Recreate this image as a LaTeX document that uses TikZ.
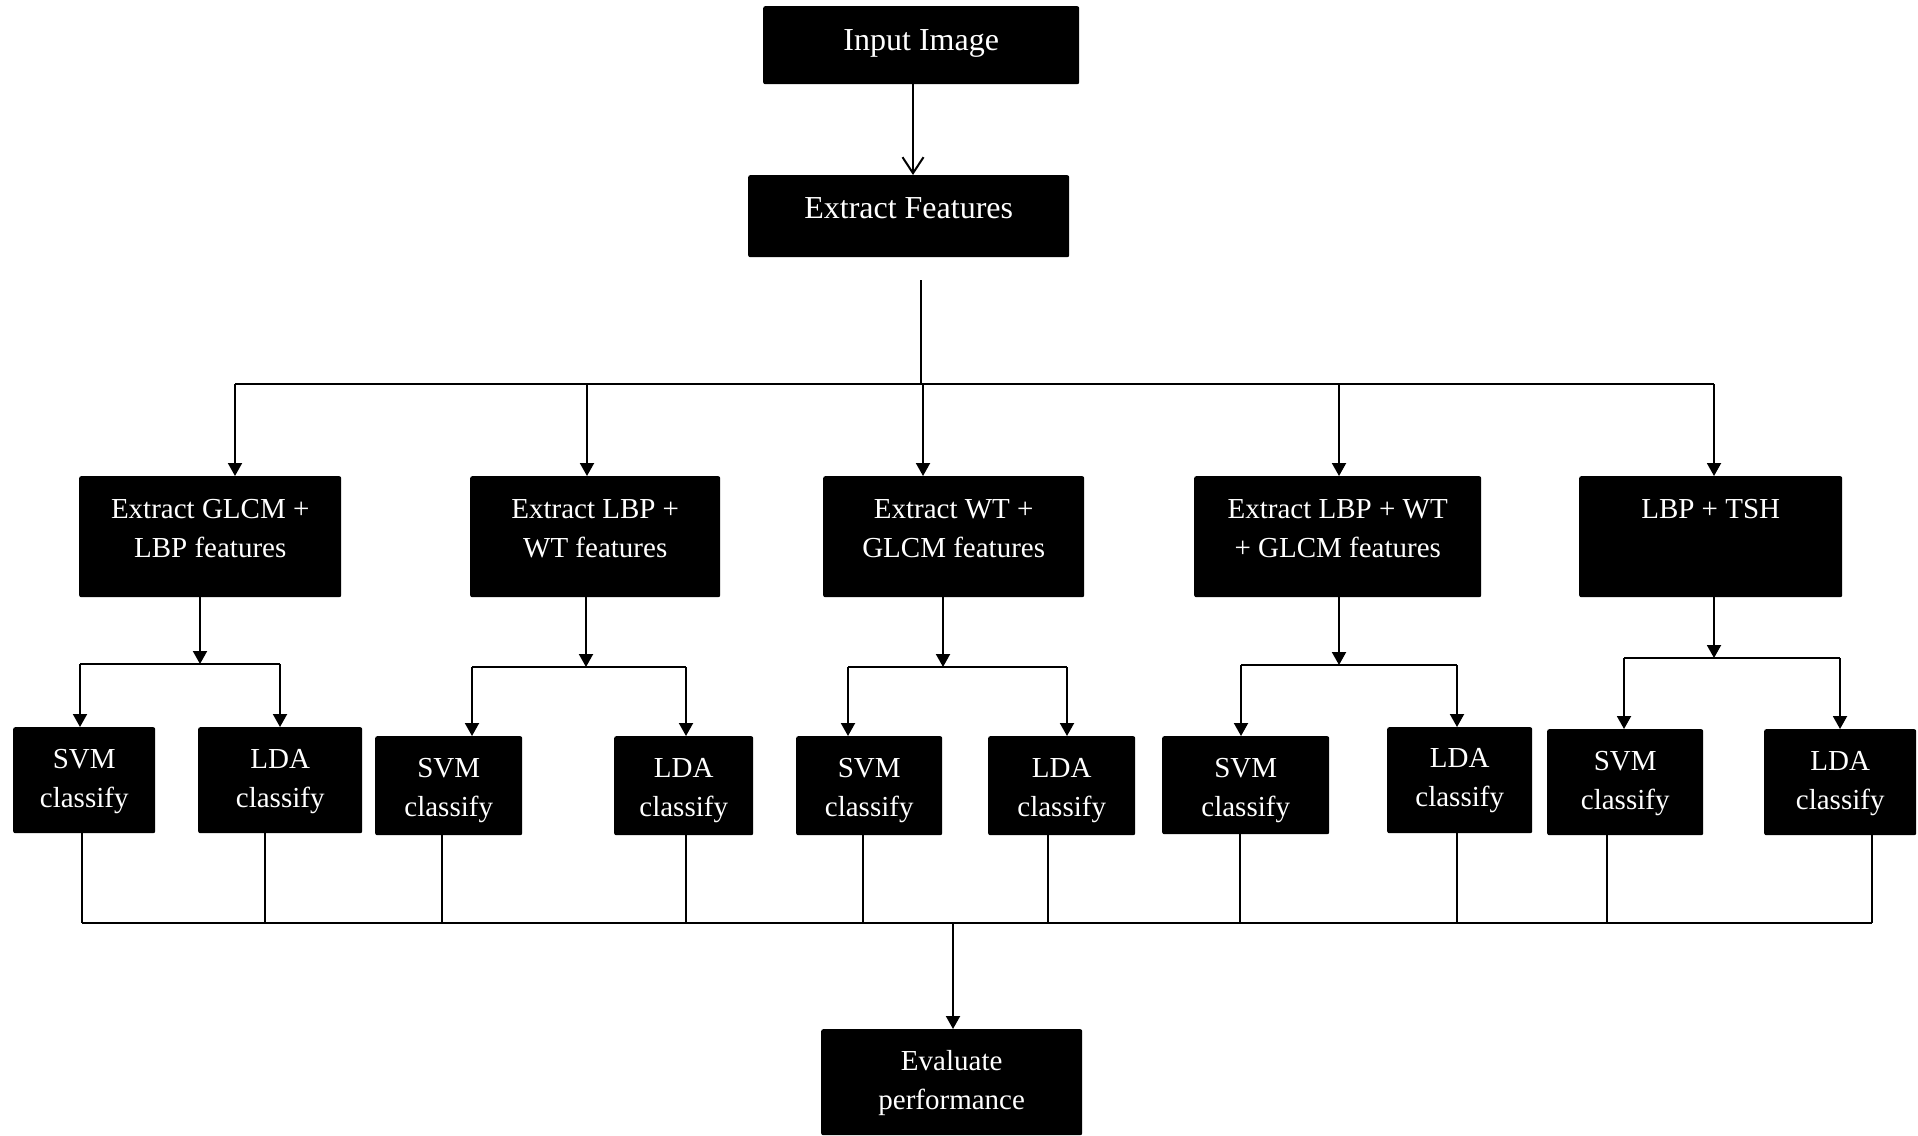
\documentclass[tikz,border=0pt]{standalone}
\usepackage{fontspec}
\setmainfont{Liberation Serif}
\usetikzlibrary{arrows.meta}
\newcommand\fbtxt[4]{\begin{minipage}[t][#2][t]{#1}\centering\rule{0pt}{#3}#4\end{minipage}}
\tikzset{
  blk/.style={fill=black, draw=none, rounded corners=2pt, inner sep=0pt, anchor=north west, text=white},
  bigf/.style={font=\fontsize{32}{39}\selectfont},
  smf/.style={font=\fontsize{29}{39}\selectfont},
  ln/.style={line width=2pt, draw=black},
  arr/.style={ln, -{Triangle[width=14pt,length=13pt]}},
  openarr/.style={ln, -{Straight Barb[width=21pt,length=16pt,line width=2pt]}}
}
\begin{document}
\begin{tikzpicture}[x=1pt,y=-1pt]
\useasboundingbox (0,0) rectangle (1918,1135);
% top
\node[blk,bigf] (in) at (763,6) {\fbtxt{316pt}{78pt}{44pt}{Input Image}};
\node[blk,bigf] (fe) at (748,175) {\fbtxt{321pt}{82pt}{43pt}{Extract Features}};
% row 2
\node[blk,smf] (b1) at (79,476) {\fbtxt{262pt}{121pt}{42pt}{Extract GLCM +\\LBP features}};
\node[blk,smf] (b2) at (470,476) {\fbtxt{250pt}{121pt}{42pt}{Extract LBP +\\WT features}};
\node[blk,smf] (b3) at (823,476) {\fbtxt{261pt}{121pt}{42pt}{Extract WT +\\GLCM features}};
\node[blk,smf] (b4) at (1194,476) {\fbtxt{287pt}{121pt}{42pt}{Extract LBP + WT\\+ GLCM features}};
\node[blk,smf] (b5) at (1579,476) {\fbtxt{263pt}{121pt}{42pt}{LBP + TSH}};
% row 3
\node[blk,smf] (s1) at (13,727) {\fbtxt{142pt}{106pt}{41pt}{SVM\\classify}};
\node[blk,smf] (l1) at (198,727) {\fbtxt{164pt}{106pt}{41pt}{LDA\\classify}};
\node[blk,smf] (s2) at (375,736) {\fbtxt{147pt}{99pt}{41pt}{SVM\\classify}};
\node[blk,smf] (l2) at (614,736) {\fbtxt{139pt}{99pt}{41pt}{LDA\\classify}};
\node[blk,smf] (s3) at (796,736) {\fbtxt{146pt}{99pt}{41pt}{SVM\\classify}};
\node[blk,smf] (l3) at (988,736) {\fbtxt{147pt}{99pt}{41pt}{LDA\\classify}};
\node[blk,smf] (s4) at (1162,736) {\fbtxt{167pt}{98pt}{41pt}{SVM\\classify}};
\node[blk,smf] (l4) at (1387,727) {\fbtxt{145pt}{106pt}{40pt}{LDA\\classify}};
\node[blk,smf] (s5) at (1547,729) {\fbtxt{156pt}{106pt}{41pt}{SVM\\classify}};
\node[blk,smf] (l5) at (1764,729) {\fbtxt{152pt}{106pt}{41pt}{LDA\\classify}};
% bottom
\node[blk,smf] (ev) at (821,1029) {\fbtxt{261pt}{106pt}{41pt}{Evaluate\\performance}};

% input -> extract features
\coordinate (x0) at (913,0);
\draw[openarr] (in.south -| x0) -- (fe.north -| x0);

% top distribution
\coordinate (t0) at (921,280);
\coordinate (j0) at (921,384);
\draw[ln] (t0) -- (j0);
\coordinate (c1) at (235,384);
\coordinate (c2) at (587,384);
\coordinate (c3) at (923,384);
\coordinate (c4) at (1339,384);
\coordinate (c5) at (1714,384);
\draw[ln] (c1) -- (c5);
\foreach \c/\b in {c1/b1,c2/b2,c3/b3,c4/b4,c5/b5}{
  \draw[arr] (\c) -- (\c |- \b.north);
}

% sub branches
\coordinate (m1) at (200,664);
\coordinate (m2) at (586,667);
\coordinate (m3) at (943,667);
\coordinate (m4) at (1339,665);
\coordinate (m5) at (1714,658);
\coordinate (p1l) at (80,664);   \coordinate (p1r) at (280,664);
\coordinate (p2l) at (472,667);  \coordinate (p2r) at (686,667);
\coordinate (p3l) at (848,667);  \coordinate (p3r) at (1067,667);
\coordinate (p4l) at (1241,665); \coordinate (p4r) at (1457,665);
\coordinate (p5l) at (1624,658); \coordinate (p5r) at (1840,658);
\foreach \i in {1,...,5}{
  \draw[arr] (b\i.south -| m\i) -- (m\i);
  \draw[ln] (p\i l) -- (p\i r);
  \draw[arr] (p\i l) -- (p\i l |- s\i.north);
  \draw[arr] (p\i r) -- (p\i r |- l\i.north);
}

% collection
\coordinate (q1) at (82,923);   \coordinate (r1) at (265,923);
\coordinate (q2) at (442,923);  \coordinate (r2) at (686,923);
\coordinate (q3) at (863,923);  \coordinate (r3) at (1048,923);
\coordinate (q4) at (1240,923); \coordinate (r4) at (1457,923);
\coordinate (q5) at (1607,923); \coordinate (r5) at (1872,923);
\foreach \i in {1,...,5}{
  \draw[ln] (s\i.south -| q\i) -- (q\i);
  \draw[ln] (l\i.south -| r\i) -- (r\i);
}
\draw[ln] (q1) -- (r5);
\coordinate (e0) at (953,923);
\draw[arr] (e0) -- (e0 |- ev.north);
\end{tikzpicture}
\end{document}
